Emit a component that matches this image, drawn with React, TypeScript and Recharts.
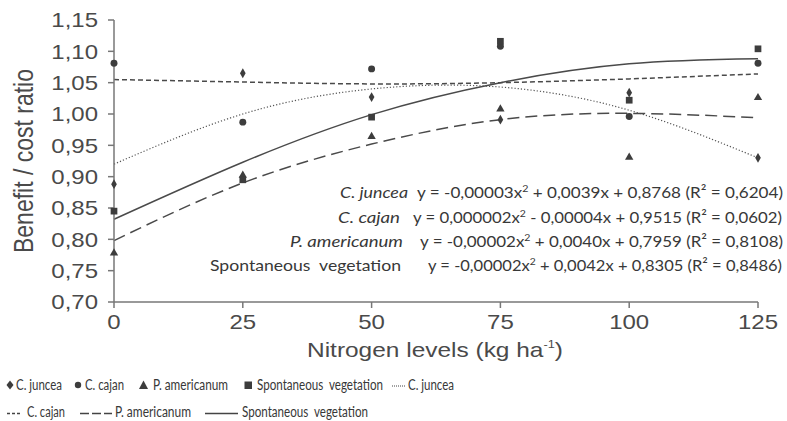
import { ComposedChart, Line, Scatter, Symbols, XAxis, YAxis } from "recharts";

// nitrogen doses (kg/ha)
const nitrogenLevels = [0, 25, 50, 75, 100, 125];

// observed benefit / cost ratios
const junceaObserved = [0.888, 1.065, 1.027, 0.991, 1.034, 0.93];
const cajanObserved = [1.081, 0.987, 1.072, 1.108, 0.996, 1.081];
const americanumObserved = [0.778, 0.902, 0.964, 1.008, 0.931, 1.026];
const spontaneousObserved = [0.845, 0.895, 0.995, 1.116, 1.022, 1.104];

// fitted curves as drawn in the figure
const junceaFit = [0.92, 1.0, 1.04, 1.043, 1.006, 0.93];
const cajanFit = [1.055, 1.051, 1.048, 1.05, 1.056, 1.064];
const americanumFit = [0.798, 0.89, 0.952, 0.991, 1.001, 0.994];
const spontaneousFit = [0.832, 0.923, 0.999, 1.05, 1.08, 1.088];

const yTicks = [0.7, 0.75, 0.8, 0.85, 0.9, 0.95, 1.0, 1.05, 1.1, 1.15];

const chartData = nitrogenLevels.map((x, i) => ({
  x,
  junceaObs: junceaObserved[i],
  cajanObs: cajanObserved[i],
  americanumObs: americanumObserved[i],
  spontaneousObs: spontaneousObserved[i],
  junceaFit: junceaFit[i],
  cajanFit: cajanFit[i],
  americanumFit: americanumFit[i],
  spontaneousFit: spontaneousFit[i],
}));

const ink = "#4a4a4a";
const axisFont = "'Liberation Sans', Arial, sans-serif";
const eqFont = "Lato, 'Open Sans', sans-serif";

const comma = (v: number) => v.toFixed(2).replace(".", ",");

const YTick = ({ x, y, payload }: any) => (
  <text
    transform={`translate(${x},${y}) scale(1.2,1)`}
    textAnchor="end"
    dy="0.36em"
    fontSize={20}
    fontFamily={axisFont}
    fill={ink}
  >
    {comma(payload.value)}
  </text>
);

const XTick = ({ x, y, payload }: any) => (
  <text
    transform={`translate(${x},${y}) scale(1.2,1)`}
    textAnchor="middle"
    dy="0.71em"
    fontSize={20}
    fontFamily={axisFont}
    fill={ink}
  >
    {payload.value}
  </text>
);

const marker = (type: any, size: number) => (p: any) =>
  p.cx == null ? null : (
    <Symbols cx={p.cx} cy={p.cy} type={type} size={size} fill="#3d3d3d" />
  );

function Equations() {
  const rows = [
    { name: "C. juncea", italic: true, nx: 340, nl: 68, y: 198, ex: 417, el: 366, a: "-0,00003", b: " + 0,0039x + 0,8768 (R² = 0,6204)" },
    { name: "C. cajan", italic: true, nx: 338, nl: 62, y: 222.5, ex: 413, el: 369, a: "0,000002", b: " - 0,00004x + 0,9515 (R² = 0,0602)" },
    { name: "P. americanum", italic: true, nx: 290, nl: 113, y: 246.5, ex: 420, el: 363, a: "-0,00002", b: " + 0,0040x + 0,7959 (R² = 0,8108)" },
    { name: "Spontaneous  vegetation", italic: false, nx: 210, nl: 191, y: 270.5, ex: 428, el: 354, a: "-0,00002", b: " + 0,0042x + 0,8305 (R² = 0,8486)" },
  ];
  return (
    <g fontFamily={eqFont} fontSize={16} fill="#383838">
      {rows.map((r) => (
        <g key={r.name}>
          <text x={r.nx} y={r.y} textLength={r.nl} lengthAdjust="spacingAndGlyphs" fontStyle={r.italic ? "italic" : "normal"} style={{ whiteSpace: "pre" }}>
            {r.name}
          </text>
          <text x={r.ex} y={r.y} textLength={r.el} lengthAdjust="spacingAndGlyphs">
            <tspan>{`y = ${r.a}x`}</tspan>
            <tspan dy={-6} fontSize={10}>2</tspan>
            <tspan dy={6}>{r.b}</tspan>
          </text>
        </g>
      ))}
    </g>
  );
}

// legend text is narrow in the figure: squeeze it horizontally
const squeeze = 0.8;

function LegendBlock() {
  const t = (x: number, y: number, len: number, s: string) => (
    <text
      transform={`translate(${x},${y}) scale(${squeeze},1)`}
      textLength={len / squeeze}
      lengthAdjust="spacingAndGlyphs"
      style={{ whiteSpace: "pre" }}
    >
      {s}
    </text>
  );
  const line = "#444";
  return (
    <g fontFamily={eqFont} fontSize={14.5} fill="#383838">
      <polygon points="10,380.5 13.5,385 10,389.5 6.5,385" fill="#3d3d3d" />
      {t(16, 389.5, 46, "C. juncea")}
      <circle cx={78} cy={385} r={3.2} fill="#3d3d3d" />
      {t(85, 389.5, 39, "C. cajan")}
      <polygon points="143.5,380.5 148,389 139,389" fill="#3d3d3d" />
      {t(153, 389.5, 75, "P. americanum")}
      <rect x={244.5} y={381.5} width={7.5} height={7.5} fill="#3d3d3d" />
      {t(257, 389.5, 126, "Spontaneous  vegetation")}
      <line x1={392} x2={405} y1={386} y2={386} stroke={line} strokeWidth={1} strokeDasharray="1 1" />
      {t(408, 389.5, 46, "C. juncea")}

      <line x1={7} x2={22} y1={413.5} y2={413.5} stroke={line} strokeWidth={1.4} strokeDasharray="3 2" />
      {t(27, 417, 38, "C. cajan")}
      <line x1={80} x2={112} y1={413.5} y2={413.5} stroke={line} strokeWidth={1.4} strokeDasharray="9 3" />
      {t(115, 417, 76, "P. americanum")}
      <line x1={205} x2={238} y1={413.5} y2={413.5} stroke={line} strokeWidth={1.4} />
      {t(242, 417, 126, "Spontaneous  vegetation")}
    </g>
  );
}

export default function App() {
  return (
    <div style={{ position: "absolute", left: 0, top: 0, width: 787, height: 421, background: "#fff" }}>
      <ComposedChart
        width={787}
        height={360}
        data={chartData}
        margin={{ top: 20, right: 29, bottom: 28, left: 0 }}
      >
        <XAxis
          dataKey="x"
          type="number"
          domain={[0, 125]}
          ticks={nitrogenLevels}
          height={30}
          tick={<XTick />}
          tickSize={6}
          tickMargin={7}
          stroke="#777"
          axisLine={{ stroke: "#777", strokeWidth: 1.5 }}
          tickLine={{ stroke: "#777", strokeWidth: 1.5 }}
        />
        <YAxis
          type="number"
          domain={[0.7, 1.15]}
          ticks={yTicks}
          allowDataOverflow
          width={114}
          tick={<YTick />}
          tickSize={6}
          tickMargin={10}
          axisLine={{ stroke: "#777", strokeWidth: 1.5 }}
          tickLine={{ stroke: "#777", strokeWidth: 1.5 }}
        />
        <Line type="natural" dataKey="junceaFit" stroke="#555" strokeWidth={1.2} strokeDasharray="1.2 2" dot={false} activeDot={false} isAnimationActive={false} />
        <Line type="natural" dataKey="cajanFit" stroke="#4a4a4a" strokeWidth={1.5} strokeDasharray="5 3" dot={false} activeDot={false} isAnimationActive={false} />
        <Line type="natural" dataKey="americanumFit" stroke="#4a4a4a" strokeWidth={1.5} strokeDasharray="12 6" dot={false} activeDot={false} isAnimationActive={false} />
        <Line type="natural" dataKey="spontaneousFit" stroke="#4a4a4a" strokeWidth={1.5} dot={false} activeDot={false} isAnimationActive={false} />
        <Scatter dataKey="junceaObs" shape={marker("diamond", 28)} isAnimationActive={false} />
        <Scatter dataKey="cajanObs" shape={marker("circle", 38)} isAnimationActive={false} />
        <Scatter dataKey="americanumObs" shape={marker("triangle", 30)} isAnimationActive={false} />
        <Scatter dataKey="spontaneousObs" shape={marker("square", 45)} isAnimationActive={false} />
      </ComposedChart>
      <svg
        width={787}
        height={421}
        style={{ position: "absolute", left: 0, top: 0, pointerEvents: "none" }}
      >
        <text
          transform="translate(33,161) scale(1.2,1) rotate(-90)"
          textAnchor="middle"
          fontSize={23}
          fontFamily={axisFont}
          fill={ink}
        >
          Benefit / cost ratio
        </text>
        <text x={307} y={356.5} textLength={256} lengthAdjust="spacingAndGlyphs" fontSize={21} fontFamily={axisFont} fill={ink}>
          <tspan>Nitrogen levels (kg ha</tspan>
          <tspan dy={-9} fontSize={11}>-1</tspan>
          <tspan dy={9}>)</tspan>
        </text>
        <Equations />
        <LegendBlock />
      </svg>
    </div>
  );
}
